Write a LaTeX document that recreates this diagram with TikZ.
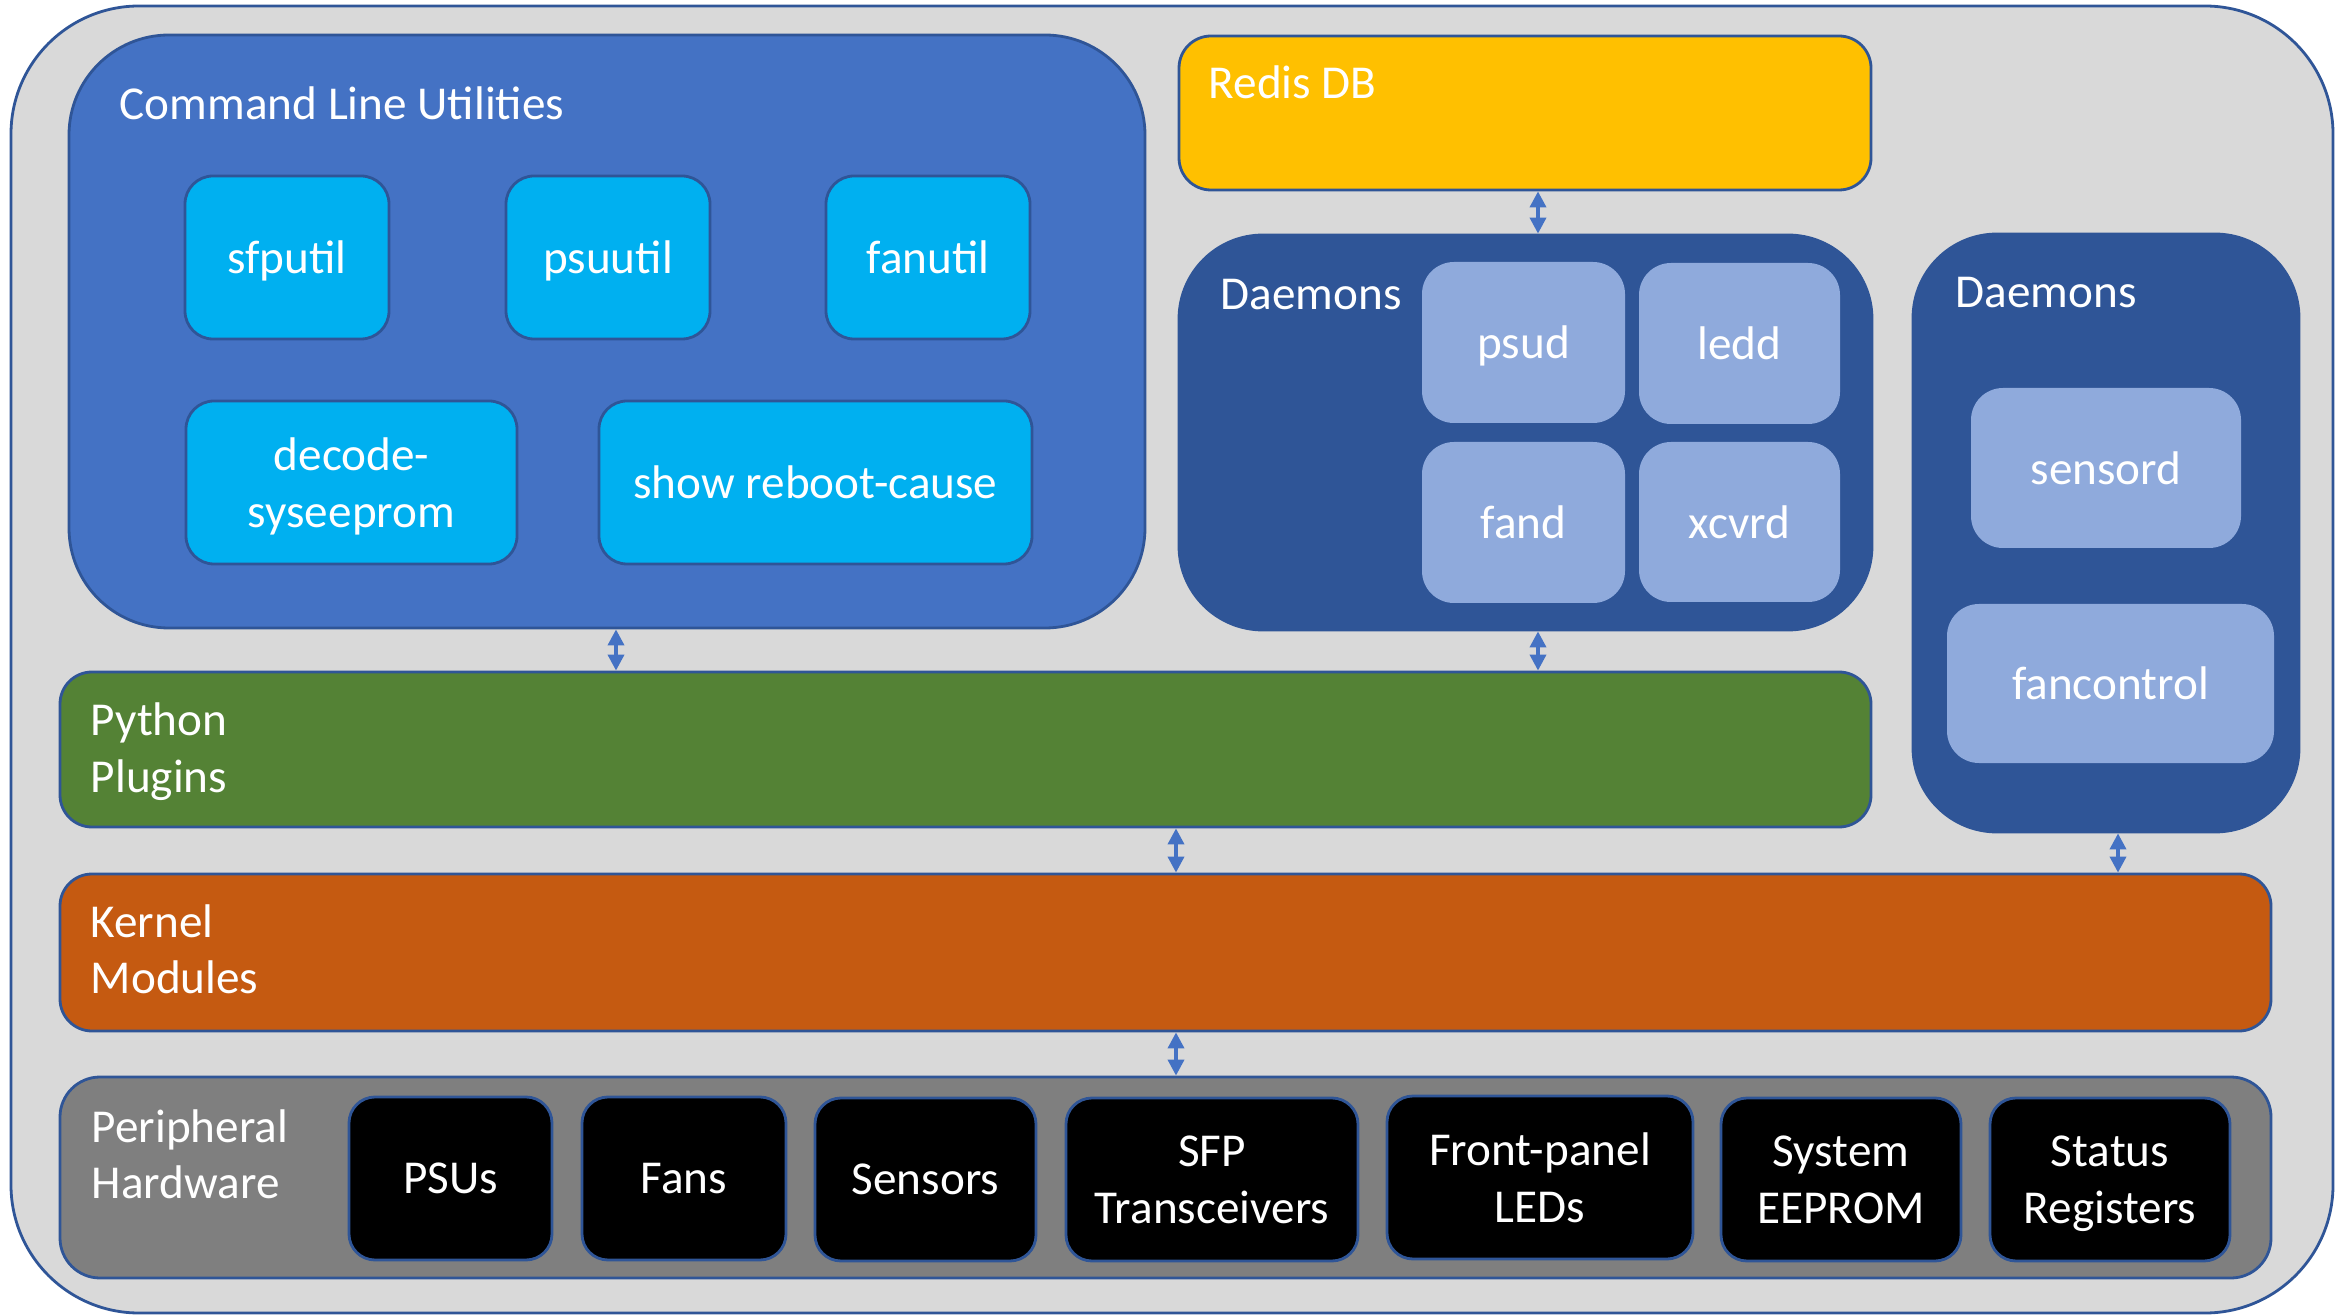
\documentclass[tikz,border=0pt]{standalone}
\usepackage{fontspec}
\setmainfont{Carlito}
\usetikzlibrary{arrows.meta}
\definecolor{bgray}{HTML}{D9D9D9}
\definecolor{edge}{HTML}{2F5597}
\definecolor{clublue}{HTML}{4472C4}
\definecolor{cyanbox}{HTML}{00B0F0}
\definecolor{redisc}{HTML}{FFC000}
\definecolor{daemonc}{HTML}{2F5597}
\definecolor{ditem}{HTML}{8FAADC}
\definecolor{pythonc}{HTML}{548235}
\definecolor{kernelc}{HTML}{C55A11}
\definecolor{periphc}{HTML}{7F7F7F}
\definecolor{arrowc}{HTML}{4472C4}
% \rbox{style}{name}{x1}{y1}{x2}{y2}{text}
\newcommand\rbox[7]{\node[#1, minimum width={(#5-#3)*0.25pt}, minimum height={(#6-#4)*0.25pt}] (#2) at ({(#3+#5)/2},{(#4+#6)/2}) {#7};}
\begin{document}
\begin{tikzpicture}[x=0.25pt,y=-0.25pt,
  font=\fontsize{11.8}{14.3}\selectfont,
  box/.style={inner sep=0pt, line width=0.7pt, draw=edge, text=white, align=center, text depth=0pt},
  utilbox/.style={box, fill=cyanbox, rounded corners=7pt},
  ditembox/.style={box, draw=none, fill=ditem, rounded corners=8pt},
  hwbox/.style={box, fill=black, rounded corners=6.5pt},
  lbl/.style={text=white, inner sep=0pt, anchor=base west},
  arr/.style={{Triangle[width=4pt,length=4pt]}-{Triangle[width=4pt,length=4pt]}, draw=arrowc, line width=0.9pt}]
\useasboundingbox (0,0) rectangle (2335,1315);

% outer frame
\rbox{box, fill=bgray, rounded corners=32pt}{outer}{11}{6}{2333}{1313}{}

% command line utilities
\rbox{box, fill=clublue, rounded corners=25pt}{clu}{69}{35}{1145}{628}{}
\node[lbl] (clulbl) at (119,120) {Command Line Utilities};
\rbox{utilbox}{sfputil}{185}{176}{389}{339}{sfputil}
\rbox{utilbox}{psuutil}{506}{176}{710}{339}{psuutil}
\rbox{utilbox}{fanutil}{826}{176}{1030}{339}{fanutil}
\rbox{utilbox}{decode}{186}{401}{517}{564}{decode-\\syseeprom}
\rbox{utilbox}{reboot}{599}{401}{1032}{564}{show reboot-cause}

% redis
\rbox{box, fill=redisc, rounded corners=8pt}{redis}{1179}{36}{1871}{190}{}
\node[lbl] (redislbl) at (1208,99) {Redis DB};

% daemons 1
\rbox{box, fill=daemonc, draw=daemonc, rounded corners=21pt}{dmn1}{1179}{235}{1872}{630}{}
\node[lbl] (dmn1lbl) at (1220,310) {Daemons};
\rbox{ditembox}{psud}{1422}{262}{1625}{423}{psud}
\rbox{ditembox}{ledd}{1639}{263}{1840}{424}{ledd}
\rbox{ditembox}{fand}{1422}{442}{1625}{603}{fand}
\rbox{ditembox}{xcvrd}{1639}{442}{1840}{602}{xcvrd}

% daemons 2
\rbox{box, fill=daemonc, draw=daemonc, rounded corners=21pt}{dmn2}{1913}{234}{2299}{832}{}
\node[lbl] (dmn2lbl) at (1955,308) {Daemons};
\rbox{ditembox}{sensord}{1971}{388}{2241}{548}{sensord}
\rbox{ditembox}{fancontrol}{1947}{604}{2274}{763}{fancontrol}

% python plugins
\rbox{box, fill=pythonc, rounded corners=8pt}{python}{60}{672}{1871}{827}{}
\node[lbl] (pylbl1) at (90,735) {Python};
\node[lbl] (pylbl2) at (90,792) {Plugins};

% kernel modules
\rbox{box, fill=kernelc, rounded corners=8pt}{kernel}{60}{874}{2271}{1031}{}
\node[lbl] (krlbl1) at (90,937) {Kernel};
\node[lbl] (krlbl2) at (90,993) {Modules};

% peripheral hardware
\rbox{box, fill=periphc, rounded corners=10pt}{periph}{60}{1077}{2271}{1278}{}
\node[lbl] (pelbl1) at (91,1142) {Peripheral};
\node[lbl] (pelbl2) at (91,1198) {Hardware};
\rbox{hwbox}{psus}{349}{1097}{552}{1260}{PSUs}
\rbox{hwbox}{fans}{582}{1097}{786}{1260}{Fans}
\rbox{hwbox}{sensors}{815}{1098}{1036}{1261}{Sensors}
\rbox{hwbox}{sfp}{1066}{1098}{1358}{1261}{SFP\\Transceivers}
\rbox{hwbox}{leds}{1387}{1096}{1693}{1259}{Front-panel\\LEDs}
\rbox{hwbox}{eeprom}{1721}{1098}{1961}{1261}{System\\EEPROM}
\rbox{hwbox}{status}{1990}{1098}{2230}{1261}{Status\\Registers}

% connectors
\draw[arr] (616,0 |- clu.south) -- (616,0 |- python.north);
\draw[arr] (1538,0 |- redis.south) -- (1538,0 |- dmn1.north);
\draw[arr] (1538,0 |- dmn1.south) -- (1538,0 |- python.north);
\draw[arr] (1176,0 |- python.south) -- (1176,0 |- kernel.north);
\draw[arr] (2118,0 |- dmn2.south) -- (2118,0 |- kernel.north);
\draw[arr] (1176,0 |- kernel.south) -- (1176,0 |- periph.north);
\end{tikzpicture}
\end{document}
